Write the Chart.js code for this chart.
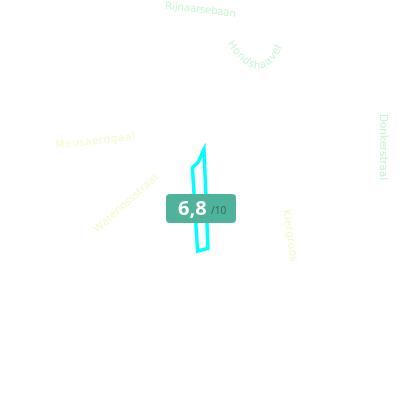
<!DOCTYPE html>
<html><head><meta charset="utf-8">
<style>html,body{margin:0;padding:0;background:#fff}#w{position:relative;width:400px;height:400px}</style>
<script src="https://cdn.jsdelivr.net/npm/chart.js@4"></script></head>
<body><div id="w"><canvas id="c" width="400" height="400"></canvas></div>
<script>
const shapeX = [0.2, -0.1, -0.38, -0.12, 0.4, 0.2, -0.1];
const shapeY = [2.52, 1.88, 1.62, -2.55, -2.42, 2.52, 1.88];
const categories = ["Rijnaarsebaan","Hondshaavel","Donkerstraal","Kiergroos","Waterlossstraat","Meusaerdgaal"];
const labelColors = ["#c9f7d3","#c9f7d3","#c4f5d0","#eefac4","#f1fbc8","#f3fbcb"];
const labelPaths = [
  [[165,9],[200,12],[235,17]],
  [[227,43],[259,92],[282,47]],
  [[380,114],[380,147],[380,180]],
  [[283,210],[287,236],[291,262]],
  [[97,233],[128,206],[159,178]],
  [[55,148],[95,145],[135,139]]
];
const score = "6,8";
const scoreMax = "/10";
function q(p,t){const a=(1-t)*(1-t),b=2*t*(1-t),c=t*t;return [a*p[0][0]+b*p[1][0]+c*p[2][0],a*p[0][1]+b*p[1][1]+c*p[2][1]];}
function arc(p){const pts=[];let L=0,prev=q(p,0);for(let i=0;i<=200;i++){const r=q(p,i/200);L+=Math.hypot(r[0]-prev[0],r[1]-prev[1]);pts.push([r[0],r[1],L]);prev=r;}return pts;}
function at(pts,f){const d=f*pts[pts.length-1][2];let i=1;while(i<pts.length-1&&pts[i][2]<d)i++;const a=pts[i-1],b=pts[i];return [b[0],b[1],Math.atan2(b[1]-a[1],b[0]-a[0])];}
const overlay={id:'overlay',afterDatasetsDraw(ch){const x=ch.ctx;x.save();
  x.font='10.5px "DejaVu Sans"';x.textBaseline='alphabetic';x.textAlign='left';
  categories.forEach((s,i)=>{x.fillStyle=labelColors[i];const pts=arc(labelPaths[i]);
    const chars=[...s];const ws=chars.map(c=>x.measureText(c).width);const tot=ws.reduce((a,b)=>a+b,0);let acc=0;
    chars.forEach((c,k)=>{const r=at(pts,(acc+ws[k]/2)/tot);
      x.save();x.translate(r[0],r[1]);x.rotate(r[2]);x.fillText(c,-ws[k]/2,0);x.restore();acc+=ws[k];});});
  x.fillStyle='#4fb39b';x.beginPath();x.roundRect(166,194,70,29,4);x.fill();
  x.fillStyle='#fff';x.font='bold 20px "Open Sans"';x.textBaseline='middle';x.fillText(score,178,209);
  x.fillStyle='#35635a';x.font='10px "Open Sans"';x.fillText(scoreMax,211,211);
  x.restore();}};
new Chart(document.getElementById('c'),{type:'scatter',
  data:{datasets:[{data:shapeX.map((v,i)=>({x:v,y:shapeY[i]})),showLine:true,borderColor:'#00ffff',borderWidth:3.5,borderJoinStyle:'miter',pointRadius:0,fill:false,tension:0}]},
  options:{responsive:false,animation:false,layout:{padding:0},
    plugins:{legend:{display:false},tooltip:{enabled:false}},
    scales:{x:{display:false,min:-10,max:10},y:{display:false,min:-10,max:10}}},
  plugins:[overlay]});
</script></body></html>
